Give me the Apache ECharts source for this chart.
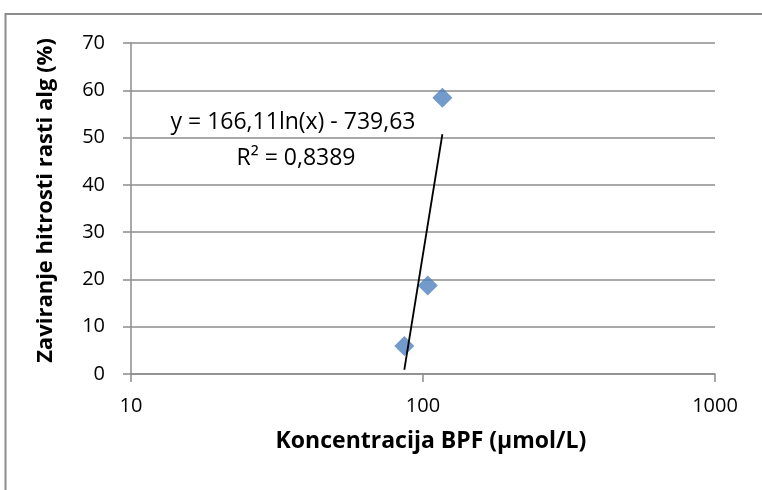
<!DOCTYPE html>
<html>
<head>
<meta charset="utf-8">
<script src="https://cdn.jsdelivr.net/npm/echarts@6/dist/echarts.min.js"></script>
<style>
html,body{margin:0;padding:0;background:#fff;}
#chart{width:762px;height:490px;}
</style>
</head>
<body>
<div id="chart"></div>
<script>
// Data
var concentrations = [86.3, 103.8, 116.5];      // µmol/L
var inhibition = [5.9, 18.7, 58.4];             // %
// Logarithmic trendline endpoints (straight on a log x axis)
var trendX = [86.3, 116.5];
var trendY = [0.9, 50.7];
var xTicks = [10, 100, 1000];
var yTicks = [0, 10, 20, 30, 40, 50, 60, 70];
var equationText = 'y = 166,11ln(x) - 739,63';
var r2Text = 'R² = 0,8389';
var xTitle = 'Koncentracija BPF (µmol/L)';
var yTitle = 'Zaviranje hitrosti rasti alg (%)';

var FONT = '"Open Sans"';
var GRAY = '#8c8c8c';

var scatterData = concentrations.map(function (x, i) { return [x, inhibition[i]]; });
var trendData = trendX.map(function (x, i) { return [x, trendY[i]]; });

var chart = echarts.init(document.getElementById('chart'), null, {renderer: 'canvas'});
chart.setOption({
  animation: false,
  backgroundColor: '#fff',
  textStyle: {fontFamily: FONT},
  grid: {left: 131, right: 47, top: 43, bottom: 116, containLabel: false},
  xAxis: {
    type: 'log',
    logBase: 10,
    min: xTicks[0],
    max: xTicks[xTicks.length - 1],
    name: xTitle,
    nameLocation: 'middle',
    nameGap: 56,
    nameTextStyle: {fontFamily: FONT, fontWeight: 'bold', fontSize: 23, color: '#000', padding: [0, 0, 0, 16]},
    axisLine: {show: true, lineStyle: {color: GRAY, width: 1.5}},
    axisTick: {show: true, length: 8, inside: false, lineStyle: {color: GRAY, width: 1.5}},
    minorTick: {show: false},
    splitLine: {show: false},
    axisLabel: {
      margin: 22, fontFamily: FONT, fontSize: 20, color: '#000',
      formatter: function (v) { return String(Math.round(v)); }
    }
  },
  yAxis: {
    type: 'value',
    min: yTicks[0],
    max: yTicks[yTicks.length - 1],
    interval: 10,
    name: yTitle,
    nameLocation: 'middle',
    nameRotate: 90,
    nameGap: 74,
    nameTextStyle: {fontFamily: FONT, fontWeight: 'bold', fontSize: 22, color: '#000', padding: [0, 0, 0, 16]},
    axisLine: {show: true, lineStyle: {color: GRAY, width: 1.5}},
    axisTick: {show: true, length: 8, inside: false, lineStyle: {color: GRAY, width: 1.5}},
    splitLine: {show: true, lineStyle: {color: GRAY, width: 1.5}},
    axisLabel: {margin: 26, fontFamily: FONT, fontSize: 20, color: '#000'}
  },
  series: [
    {
      type: 'scatter',
      data: scatterData,
      symbol: 'diamond',
      symbolSize: 20,
      itemStyle: {color: '#4f81bd'},
      z: 3
    },
    {
      type: 'line',
      data: trendData,
      symbol: 'none',
      lineStyle: {color: '#000', width: 1.8},
      z: 4
    }
  ],
  graphic: [
    {
      type: 'rect',
      shape: {x: 5.5, y: 14, width: 800, height: 520},
      style: {fill: 'none', stroke: GRAY, lineWidth: 2},
      silent: true,
      z: 0
    },
    {
      type: 'text',
      x: 293, y: 122,
      style: {text: equationText, font: '23px ' + FONT, fill: '#000', align: 'center', verticalAlign: 'middle'}
    },
    {
      type: 'text',
      x: 296, y: 158,
      style: {text: r2Text, font: '23px ' + FONT, fill: '#000', align: 'center', verticalAlign: 'middle'}
    }
  ]
});
</script>
</body>
</html>
